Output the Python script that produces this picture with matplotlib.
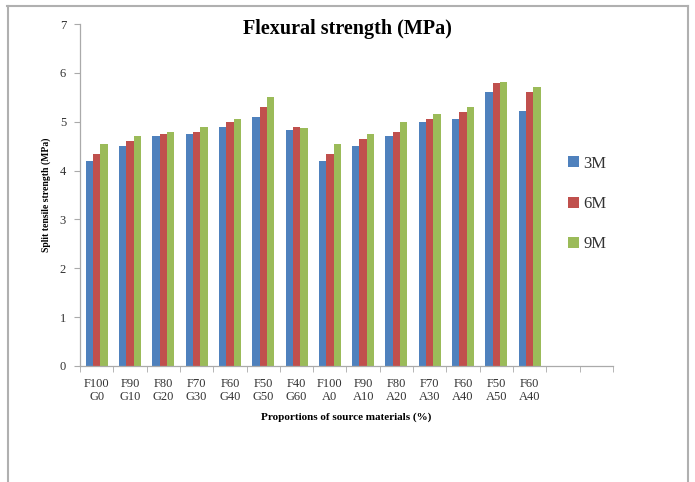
import numpy as np
import matplotlib
matplotlib.use('Agg')
import matplotlib.pyplot as plt
from matplotlib.lines import Line2D

categories = ['F100\nG0', 'F90\nG10', 'F80\nG20', 'F70\nG30', 'F60\nG40', 'F50\nG50', 'F40\nG60',
              'F100\nA0', 'F90\nA10', 'F80\nA20', 'F70\nA30', 'F60\nA40', 'F50\nA50', 'F60\nA40']
m3 = [4.20, 4.50, 4.70, 4.75, 4.90, 5.10, 4.83, 4.20, 4.50, 4.70, 5.00, 5.05, 5.60, 5.22]
m6 = [4.35, 4.60, 4.75, 4.80, 5.00, 5.30, 4.90, 4.35, 4.65, 4.80, 5.05, 5.20, 5.80, 5.60]
m9 = [4.55, 4.70, 4.80, 4.90, 5.05, 5.50, 4.88, 4.55, 4.75, 5.00, 5.15, 5.30, 5.82, 5.72]
series = [('3M', m3, '#4F81BD'), ('6M', m6, '#C0504D'), ('9M', m9, '#9BBB59')]
n_slots = 16  # two empty slots at the right end

plt.rcParams['font.family'] = ['Liberation Serif', 'DejaVu Serif']

fig = plt.figure(figsize=(6.95, 4.82), dpi=100)
ax = fig.add_axes([0.1151, 0.2407, 0.7669, 0.7093])

x = np.arange(len(categories))
w = 0.22
for k, (name, vals, col) in enumerate(series):
    ax.bar(x + (k - 1) * w, vals, width=w, color=col, label=name, zorder=2)

ax.set_xlim(-0.5, n_slots - 0.5)
ax.set_ylim(0, 7)
ax.set_yticks(range(0, 8))
ax.set_xticks(x)
ax.set_xticklabels(categories, fontsize=9, color='#333333', linespacing=1.05)
ax.set_xticks(np.arange(n_slots + 1) - 0.5, minor=True)
ax.tick_params(axis='x', which='major', length=0, pad=9)
ax.tick_params(axis='x', which='minor', length=4, color='#aaaaaa')
ax.tick_params(axis='y', length=4, color='#aaaaaa', labelsize=9, labelcolor='#333333', pad=6)

for s in ['top', 'right']:
    ax.spines[s].set_visible(False)
for s in ['left', 'bottom']:
    ax.spines[s].set_color('#aaaaaa')
    ax.spines[s].set_linewidth(0.9)

ax.set_xlabel('Proportions of source materials (%)', fontsize=8, fontweight='bold', labelpad=7)
ax.set_ylabel('Split tensile strength (MPa)', fontsize=7, fontweight='bold', labelpad=6)
fig.text(0.5, 0.940, 'Flexural strength (MPa)', ha='center', va='center',
         fontsize=14.5, fontweight='bold')

leg = ax.legend(loc='center left', bbox_to_anchor=(0.888, 0.474), frameon=False,
                fontsize=12, handlelength=0.65, handleheight=0.65, handletextpad=0.25,
                labelspacing=1.45)
for t in leg.get_texts():
    t.set_color('#333333')

# outer chart frame (top, left, right)
fig.add_artist(Line2D([0.010, 0.990], [0.988, 0.988], color='#b0b0b0', lw=1.5))
fig.add_artist(Line2D([0.012, 0.012], [0.0, 0.988], color='#b0b0b0', lw=1.5))
fig.add_artist(Line2D([0.990, 0.990], [0.0, 0.988], color='#b0b0b0', lw=1.5))

fig.savefig('out.png', dpi=100)
